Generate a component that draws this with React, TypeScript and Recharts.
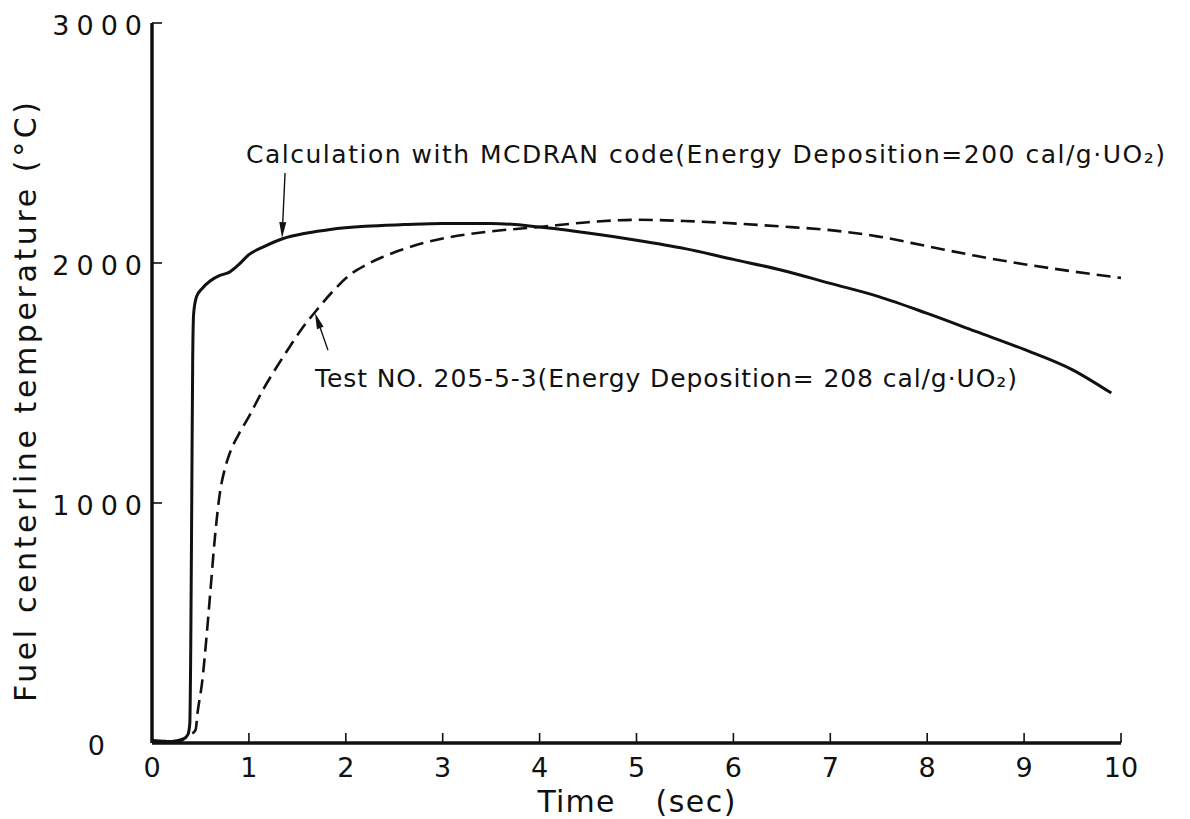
import React from 'react';
import { LineChart, Line, XAxis, YAxis, ReferenceLine, ReferenceDot } from 'recharts';

// Axis ticks
const xTicks = [0, 1, 2, 3, 4, 5, 6, 7, 8, 9, 10];
const yTicks = [0, 1000, 2000, 3000];

// Calculation with MCDRAN code (200 cal/g·UO2)
const calcTime = [0, 0.1, 0.25, 0.32, 0.37, 0.39, 0.4, 0.41, 0.42, 0.43, 0.46, 0.52, 0.6, 0.7, 0.8, 0.9, 1.0, 1.15, 1.34, 1.6, 1.84, 2.2, 2.6, 3.0, 3.5, 4.0, 4.5, 5.0, 5.5, 6.0, 6.5, 7.0, 7.5, 8.0, 8.5, 9.0, 9.5, 9.9];
const calcTemp = [10, 6, 6, 15, 35, 80, 400, 1000, 1600, 1790, 1860, 1895, 1925, 1948, 1962, 1995, 2035, 2067, 2100, 2125, 2140, 2153, 2160, 2165, 2165, 2150, 2125, 2095, 2060, 2015, 1970, 1915, 1860, 1790, 1715, 1640, 1555, 1458];

// Test NO. 205-5-3 (208 cal/g·UO2)
const testTime = [0, 0.2, 0.3, 0.4, 0.45, 0.47, 0.52, 0.56, 0.6, 0.65, 0.7, 0.75, 0.8, 0.9, 1.0, 1.15, 1.3, 1.42, 1.55, 1.7, 1.85, 2.04, 2.2, 2.38, 2.6, 2.8, 3.0, 3.5, 4.0, 4.5, 5.0, 5.5, 6.0, 6.5, 7.0, 7.5, 8.0, 8.5, 9.0, 9.5, 10.0];
const testTemp = [10, 8, 15, 35, 55, 125, 262, 430, 620, 860, 1040, 1140, 1205, 1290, 1360, 1475, 1575, 1650, 1728, 1804, 1875, 1950, 1990, 2025, 2058, 2083, 2102, 2132, 2150, 2170, 2180, 2175, 2165, 2152, 2137, 2110, 2070, 2030, 1995, 1965, 1938];

// Annotation anchors (time, temperature)
const calcLabelAt = { t: 0.97, v: 2417 };
const calcArrow = [{ t: 1.373, v: 2375 }, { t: 1.342, v: 2104 }];
const testLabelAt = { t: 1.682, v: 1483 };
const testArrow = [{ t: 1.816, v: 1637 }, { t: 1.682, v: 1792 }];

const calcSeries = calcTime.map((t, i) => ({ t, v: calcTemp[i] }));
const testSeries = testTime.map((t, i) => ({ t, v: testTemp[i] }));

const FONT = '"DejaVu Sans", sans-serif';
const INK = '#111';

const XTick = (props: any) => {
  const { x, y, payload } = props;
  return (
    <g>
      {payload.value !== 0 && (
        <line x1={x} y1={y} x2={x} y2={y - 10} stroke={INK} strokeWidth={1.6} />
      )}
      <text x={x} y={y + 34} textAnchor="middle" fontSize={27} fontFamily={FONT} fill={INK}>
        {payload.value}
      </text>
    </g>
  );
};

const YTick = (props: any) => {
  const { x, y, payload } = props;
  const zero = payload.value === 0;
  return (
    <g>
      {!zero && <line x1={x} y1={y} x2={x + 10} y2={y} stroke={INK} strokeWidth={1.6} />}
      <text
        x={zero ? x - 40 : x - 3}
        y={y + 12}
        textAnchor="end"
        fontSize={27}
        letterSpacing={7}
        fontFamily={FONT}
        fill={INK}
      >
        {payload.value}
      </text>
    </g>
  );
};

const Arrow = (props: any) => {
  const { x1, y1, x2, y2 } = props;
  const dx = x2 - x1;
  const dy = y2 - y1;
  const len = Math.sqrt(dx * dx + dy * dy) || 1;
  const ux = dx / len;
  const uy = dy / len;
  const hl = 16;
  const hw = 3.5;
  const bx = x2 - ux * hl;
  const by = y2 - uy * hl;
  return (
    <g>
      <line x1={x1} y1={y1} x2={bx} y2={by} stroke={INK} strokeWidth={1.4} />
      <polygon
        points={`${x2},${y2} ${bx - uy * hw},${by + ux * hw} ${bx + uy * hw},${by - ux * hw}`}
        fill={INK}
      />
    </g>
  );
};

const AnnotationText = (text: string, length: number) => (props: any) => {
  const { cx, cy } = props;
  return (
    <text
      x={cx}
      y={cy}
      fontSize={25}
      fontFamily={FONT}
      fill={INK}
      textLength={length}
      lengthAdjust="spacing"
    >
      {text}
    </text>
  );
};

const XTitle = (props: any) => {
  const { viewBox } = props;
  const base = viewBox.y + 69;
  const cx = viewBox.x + viewBox.width / 2;
  return (
    <g>
      <text x={cx - 99} y={base} fontSize={30} fontFamily={FONT} fill={INK} textLength={77} lengthAdjust="spacing">
        Time
      </text>
      <text x={cx + 19} y={base} fontSize={30} fontFamily={FONT} fill={INK} textLength={80} lengthAdjust="spacing">
        (sec)
      </text>
    </g>
  );
};

const YTitle = (props: any) => {
  const { viewBox } = props;
  const cx = viewBox.x + 25;
  const cy = viewBox.y + viewBox.height / 2 + 19;
  return (
    <text
      x={cx}
      y={cy}
      transform={`rotate(-90, ${cx}, ${cy})`}
      textAnchor="middle"
      dominantBaseline="central"
      fontSize={30}
      fontFamily={FONT}
      fill={INK}
      textLength={600}
      lengthAdjust="spacing"
    >
      Fuel centerline temperature (°C)
    </text>
  );
};

export default function App() {
  return (
    <div style={{ position: 'absolute', left: 0, top: 0, width: 1190, height: 819, background: '#fff' }}>
      <LineChart width={1190} height={819} margin={{ top: 23, right: 69, bottom: 0, left: 0 }}>
        <XAxis
          type="number"
          dataKey="t"
          domain={[0, 10]}
          ticks={xTicks}
          allowDataOverflow
          height={76}
          tickSize={0}
          tickMargin={0}
          tick={<XTick />}
          axisLine={{ stroke: INK, strokeWidth: 3.5 }}
          label={<XTitle />}
        />
        <YAxis
          type="number"
          domain={[0, 3000]}
          ticks={yTicks}
          allowDataOverflow
          width={152}
          tickSize={0}
          tickMargin={0}
          tick={<YTick />}
          axisLine={{ stroke: INK, strokeWidth: 3.5 }}
          label={<YTitle />}
        />
        <Line
          data={calcSeries}
          dataKey="v"
          type="monotone"
          stroke={INK}
          strokeWidth={3}
          dot={false}
          isAnimationActive={false}
        />
        <Line
          data={testSeries}
          dataKey="v"
          type="monotone"
          stroke={INK}
          strokeWidth={2.6}
          strokeDasharray="14 7"
          dot={false}
          isAnimationActive={false}
        />
        <ReferenceLine
          segment={[{ x: calcArrow[0].t, y: calcArrow[0].v }, { x: calcArrow[1].t, y: calcArrow[1].v }]}
          shape={<Arrow />}
        />
        <ReferenceLine
          segment={[{ x: testArrow[0].t, y: testArrow[0].v }, { x: testArrow[1].t, y: testArrow[1].v }]}
          shape={<Arrow />}
        />
        <ReferenceDot
          x={calcLabelAt.t}
          y={calcLabelAt.v}
          r={0}
          shape={AnnotationText('Calculation with MCDRAN code(Energy Deposition=200 cal/g·UO₂)', 919)}
        />
        <ReferenceDot
          x={testLabelAt.t}
          y={testLabelAt.v}
          r={0}
          shape={AnnotationText('Test NO. 205-5-3(Energy Deposition= 208 cal/g·UO₂)', 702)}
        />
      </LineChart>
    </div>
  );
}
